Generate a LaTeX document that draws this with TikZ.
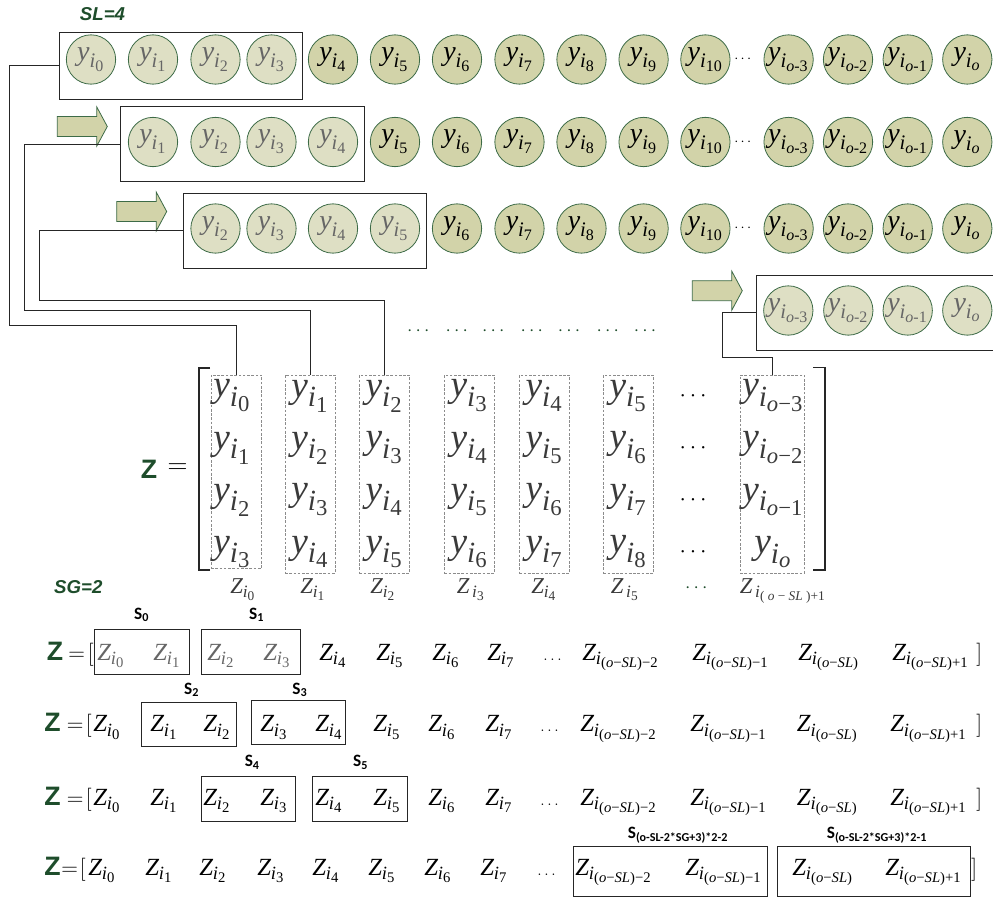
\documentclass[tikz,border=0pt]{standalone}
\usepackage{amsmath}
\usepackage{fontspec}
\setmainfont{Liberation Serif}
\newfontfamily\sansfam{Liberation Sans}
\newfontfamily\calfam{Carlito}
\usetikzlibrary{fit}
\DeclareMathSizes{21}{21}{15.5}{12}
\DeclareMathSizes{28}{28}{22}{17}
\DeclareMathSizes{18.5}{18.5}{14}{11}
\DeclareMathSizes{17}{17}{13}{10}
\definecolor{lfill}{HTML}{DEDFC4}
\definecolor{dfill}{HTML}{D2D3A9}
\definecolor{cedge}{HTML}{3D6B47}
\definecolor{dgreen}{HTML}{1E4D2B}
\definecolor{mgray}{HTML}{3A3A3A}
\definecolor{lgray}{HTML}{666666}
\newcommand\myfs[1]{\fontsize{#1}{#1}\selectfont}
\newcommand\Ys[1]{\textit{y}_{\textit{i}_{\text{#1}}}}
\newcommand\Zs[1]{\textit{Z}_{\textit{i}_{\text{#1}}}}
\begin{document}
\begin{tikzpicture}[x=0.75pt,y=-0.75pt,
  lc/.style={circle,draw=cedge,line width=0.6pt,fill=lfill,minimum size=37pt,inner sep=0pt,text=lgray,font={\myfs{21}}},
  dc/.style={lc,fill=dfill,text=black},
  rbox/.style={draw=black!85,line width=0.7pt,inner sep=0pt},
  dbox/.style={draw=black!45,dashed,dash pattern=on 2pt off 1.2pt,line width=0.5pt,inner sep=0pt},
  bar/.style={draw=cedge,line width=0.6pt,fill=dfill},
  conn/.style={draw=black!85,line width=0.7pt},
  brk/.style={draw=black!85,line width=1.2pt},
  rdots/.style={inner sep=0pt,font={\myfs{11}}},
  gdots/.style={inner sep=0pt,text=dgreen,font={\myfs{14}}},
  cdots/.style={inner sep=0pt,font={\myfs{17}}},
  ment/.style={inner sep=0pt,text=mgray,font={\myfs{28}}},
  clab/.style={inner sep=0pt,anchor=base,text=mgray,font={\myfs{17}}},
  zi/.style={inner sep=0pt,anchor=base west,font={\myfs{18.5}}},
  zdots/.style={inner sep=0pt,anchor=base west,font={\myfs{12}}},
  gz/.style={inner sep=0pt,text=dgreen,font={\sansfam\bfseries\myfs{20}}},
  glab/.style={inner sep=0pt,text=dgreen,font={\sansfam\bfseries\itshape\myfs{14}}},
  slab/.style={inner sep=0pt,font={\calfam\bfseries\myfs{13}}},
  sbox/.style={draw=black!85,line width=0.7pt,inner sep=0pt}
]
\useasboundingbox (0,0) rectangle (993,899);
\newcommand\barrow[1]{\draw[bar] (#1) ++(0,-10) -- ++(39.5,0) -- ++(0,-9.5) -- ++(10.5,19.5) -- ++(-10.5,19.5) -- ++(0,-9.5) -- ++(-39.5,0) -- cycle;}

% ---- labels
\node[glab] (sl) at (102.5,14) {SL=4};
\node[glab] (sg) at (78.3,587) {SG=2};

% ---- sliding rows: boxes
\node[rbox, fit={(59,32.3) (302.3,99.3)}] (b1) {};
\node[rbox, fit={(120.7,106.7) (364.3,181.7)}] (b2) {};
\node[rbox, fit={(183.3,193.3) (426.5,268.3)}] (b3) {};
\node[rbox, fit={(756,275) (1000,350)}] (b4) {};

% ---- arrows
\coordinate (ar2) at (57.3,126.5);
\coordinate (ar3) at (116.7,211.5);
\coordinate (ar4) at (692.3,290.7);
\barrow{ar2}
\barrow{ar3}
\barrow{ar4}

% ---- circles rows 1-3 (common tail)
\foreach \r/\ry in {1/59.5,2/142,3/228.5}{
  \foreach \x/\s [count=\k] in {457/6,519.5/7,581.5/8,643.6/9,705.4/10}
    \node[dc] (d\r-\k) at (\x,\ry) {\makebox[0pt]{$\Ys{\s}$}};
  \node[rdots] (e\r) at (744,\ry) {$\cdots$};
  \foreach \x/\s [count=\k] in {788.6/{\textit{o}-3},848/{\textit{o}-2},907.7/{\textit{o}-1},967.3/{\textit{o}}}
    \node[dc] (t\r-\k) at (\x,\ry) {\makebox[0pt]{$\Ys{\s}$}};
}
% row 1
\foreach \x/\s [count=\k] in {91/0,153/1,215.5/2,271.5/3}
  \node[lc] (l1-\k) at (\x,59.5) {\makebox[0pt]{$\Ys{\s}$}};
\foreach \x/\s [count=\k] in {333/4,395/5}
  \node[dc] (m1-\k) at (\x,59.5) {\makebox[0pt]{$\Ys{\s}$}};
% row 2
\foreach \x/\s [count=\k] in {153/1,215.5/2,271.5/3,333/4}
  \node[lc] (l2-\k) at (\x,142) {\makebox[0pt]{$\Ys{\s}$}};
\node[dc] (m2-1) at (395,142) {\makebox[0pt]{$\Ys{5}$}};
% row 3
\foreach \x/\s [count=\k] in {215.5/2,271.5/3,333/4,395/5}
  \node[lc] (l3-\k) at (\x,228.5) {\makebox[0pt]{$\Ys{\s}$}};
% row 4
\foreach \x/\s [count=\k] in {788.3/{\textit{o}-3},848.3/{\textit{o}-2},907.7/{\textit{o}-1},967.3/{\textit{o}}}
  \node[lc] (l4-\k) at (\x,310.5) {\makebox[0pt]{$\Ys{\s}$}};

% ---- green dots row
\foreach \x [count=\k] in {420,458.3,495,533.3,570.7,609.3,646.7}
  \node[gdots] (g\k) at (\x,331.7) {$\cdots$};

% ---- matrix
\node[gz] (zm) at (149,469) {Z};
\node[inner sep=0pt,font={\myfs{20}}] (eqm) at (177.5,469) {$=$};
\draw[brk] (210,367.7) -- (199,367.7) -- (199,570) -- (210,570);
\draw[brk] (813,367.3) -- (825,367.3) -- (825,570) -- (813,570);

\node[dbox, fit={(211,375) (261.7,568.3)}] (c0) {};
\foreach \ry/\j in {396/0,448/1,500/2,552/3}
  \node[ment] (m0-\j) at (232,\ry) {$\Ys{\j}$};
\foreach \cx/\st [count=\k] in {310/1,384.3/2,469.3/3,544.3/4,628.3/5}{
  \node[dbox, fit={(\cx-25,375) (\cx+25,573.3)}] (c\k) {};
  \foreach \ry/\j in {396/0,448/1,500/2,552/3}{
    \pgfmathtruncatemacro\n{\st+\j}
    \node[ment] (m\k-\j) at (\cx,\ry) {$\Ys{\n}$};
  }
}
\node[dbox, fit={(740,375) (804.3,573.3)}] (c8) {};
\foreach \ry/\s [count=\k] in {396/{\textit{o}−3},448/{\textit{o}−2},500/{\textit{o}−1},552/{\textit{o}}}
  \node[ment] (m8-\k) at (773,\ry) {$\Ys{\s}$};
\foreach \ry [count=\k] in {396,448,500,552}
  \node[cdots] (cd\k) at (695,\ry) {$\cdots$};

% column labels
\node[clab] (z0) at (243,593.5) {$\Zs{0}$};
\node[clab] (z1) at (313,593.5) {$\Zs{1}$};
\node[clab] (z2) at (383,593.5) {$\Zs{2}$};
\node[clab] (z3) at (471,593.5) {$\textit{Z}_{\,\textit{i}_{\text{3}}}$};
\node[clab] (z4) at (544,593.5) {$\Zs{4}$};
\node[clab] (z5) at (625,593.5) {$\textit{Z}_{\,\textit{i}_{\text{5}}}$};
\node[gdots] (zd) at (698,588) {$\cdots$};
\node[clab] (z8) at (783,593.5) {$\textit{Z}_{\,\textit{i}_{\text{( \textit{o} − \textit{SL} )+1}}}$};

% ---- connectors
\coordinate (k1) at (9.3,325);
\coordinate (k2) at (24.3,310.7);
\coordinate (k3) at (39.3,300.7);
\coordinate (k4) at (722.3,357.7);
\draw[conn] (b1.west) -| (k1) -| (c0.north);
\draw[conn] (b2.west) -| (k2) -| (c1.north);
\draw[conn] (b3.west) -| (k3) -| (c2.north);
\draw[conn] (b4.west) -| (k4) -| (c8.north);

% ---- bottom rows
% row A
\node[gz] (ZA) at (55,651) {Z};
\node[zi] (eA) at (68,660) {$=$};
\node[zi] (oA) at (87.5,660) {$[$};
\foreach \x/\s [count=\k] in {97/0,153/1,207/2,263/3}
  \node[zi,text=lgray] (a\k) at (\x,660) {$\Zs{\s}$};
\foreach \x/\s [count=\k from 5] in {319/4,376/5,432/6,487/7}
  \node[zi] (a\k) at (\x,660) {$\Zs{\s}$};
\node[zdots] (a9) at (543,660) {$\ldots$};
\foreach \x/\s [count=\k from 10] in {582/{(\textit{o}−\textit{SL})−2},692/{(\textit{o}−\textit{SL})−1},798/{(\textit{o}−\textit{SL})},892/{(\textit{o}−\textit{SL})+1}}
  \node[zi] (a\k) at (\x,660) {$\Zs{\s}$};
\node[zi] (cA) at (976,660) {$]$};
\node[sbox, fit={(94.3,629.3) (189.3,674)}] (s0) {};
\node[sbox, fit={(201,629.3) (300.7,674)}] (s1) {};
\node[slab] (ls0) at (141.7,615) {S\textsubscript{0}};
\node[slab] (ls1) at (256.7,615) {S\textsubscript{1}};

% row B
\node[gz] (ZB) at (52.5,722.3) {Z};
\node[zi] (eB) at (66.5,731.7) {$=$};
\node[zi] (oB) at (85.5,731.7) {$[$};
\foreach \x/\s [count=\k] in {93/0,150/1,203/2,260/3,315/4,373/5,428/6,485/7}
  \node[zi] (b\k) at (\x,731.7) {$\Zs{\s}$};
\node[zdots] (b9) at (540,731.7) {$\ldots$};
\foreach \x/\s [count=\k from 10] in {580/{(\textit{o}−\textit{SL})−2},690/{(\textit{o}−\textit{SL})−1},796.7/{(\textit{o}−\textit{SL})},890/{(\textit{o}−\textit{SL})+1}}
  \node[zi] (b\k) at (\x,731.7) {$\Zs{\s}$};
\node[zi] (cB) at (976,731.7) {$]$};
\node[sbox, fit={(141.7,702.7) (236.7,746.7)}] (s2) {};
\node[sbox, fit={(251,700) (345.7,744.3)}] (s3) {};
\node[slab] (ls2) at (191.7,690) {S\textsubscript{2}};
\node[slab] (ls3) at (300,690) {S\textsubscript{3}};

% row C
\node[gz] (ZC) at (52.5,796) {Z};
\node[zi] (eC) at (66.5,805) {$=$};
\node[zi] (oC) at (85.5,805) {$[$};
\foreach \x/\s [count=\k] in {93/0,150/1,203/2,260/3,315/4,373/5,428/6,485/7}
  \node[zi] (cc\k) at (\x,805) {$\Zs{\s}$};
\node[zdots] (cc9) at (540,805) {$\ldots$};
\foreach \x/\s [count=\k from 10] in {580/{(\textit{o}−\textit{SL})−2},690/{(\textit{o}−\textit{SL})−1},796.7/{(\textit{o}−\textit{SL})},890/{(\textit{o}−\textit{SL})+1}}
  \node[zi] (cc\k) at (\x,805) {$\Zs{\s}$};
\node[zi] (cC) at (976,805) {$]$};
\node[sbox, fit={(201.3,776.7) (295.7,821.7)}] (s4) {};
\node[sbox, fit={(312.7,776.7) (407.3,821.7)}] (s5) {};
\node[slab] (ls4) at (252.3,762.3) {S\textsubscript{4}};
\node[slab] (ls5) at (360.7,762.3) {S\textsubscript{5}};

% row D
\node[gz] (ZD) at (52.5,866) {Z};
\node[zi] (eD) at (61,875) {$=$};
\node[zi] (oD) at (79.5,875) {$[$};
\foreach \x/\s [count=\k] in {88/0,145/1,199/2,257/3,312/4,368/5,424/6,480/7}
  \node[zi] (dd\k) at (\x,875) {$\Zs{\s}$};
\node[zdots] (dd9) at (537,875) {$\ldots$};
\foreach \x/\s [count=\k from 10] in {575/{(\textit{o}−\textit{SL})−2},685/{(\textit{o}−\textit{SL})−1},792/{(\textit{o}−\textit{SL})},885/{(\textit{o}−\textit{SL})+1}}
  \node[zi] (dd\k) at (\x,875) {$\Zs{\s}$};
\node[zi] (cD) at (971,875) {$]$};
\node[sbox, fit={(573.3,846.7) (767.3,896)}] (sA) {};
\node[sbox, fit={(777.3,846.7) (970.7,896)}] (sB) {};
\node[slab] (lsA) at (678,835) {S\textsubscript{(o-SL-2*SG+3)*2-2}};
\node[slab] (lsB) at (877,835) {S\textsubscript{(o-SL-2*SG+3)*2-1}};
\end{tikzpicture}
\end{document}
